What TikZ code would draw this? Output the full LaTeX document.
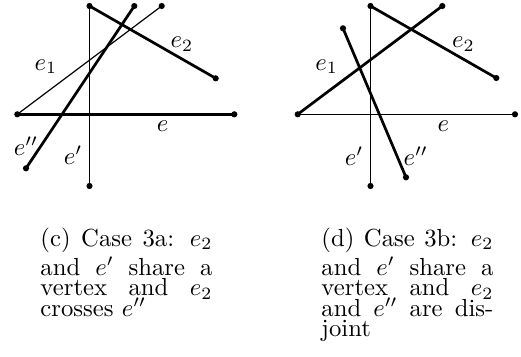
\documentclass[tikz,border=0pt]{standalone}
\begin{document}
\begin{tikzpicture}[x=0.4049pt,y=-0.4049pt,
  vtx/.style={circle,fill=black,inner sep=0pt,minimum size=2.5pt},
  thickedge/.style={line width=1.1pt},
  thinedge/.style={line width=0.5pt},
  lbl/.style={inner sep=0pt},
  captext/.style={inner sep=0pt,anchor=base west}]
\useasboundingbox (0,0) rectangle (521,356);
\newcommand{\fullline}[1]{\makebox[69.6pt][s]{#1}}
% ---------- left panel (c)
\node[vtx] (ct) at (89.5,6) {};
\node[vtx] (cb) at (89.5,186) {};
\node[vtx] (c2) at (215.7,78.3) {};
\node[vtx] (cl) at (17.3,114.3) {};
\node[vtx] (c1) at (161.7,6) {};
\node[vtx] (cr) at (234.3,114.3) {};
\node[vtx] (cpb) at (26,168.3) {};
\node[vtx] (cpt) at (134.3,6) {};
\draw[thinedge] (ct.center) -- (cb.center);
\draw[thinedge] (cl.center) -- (c1.center);
\draw[thickedge] (ct.center) -- (c2.center);
\draw[thickedge] (cl.center) -- (cr.center);
\draw[thickedge] (cpb.center) -- (cpt.center);
\node[lbl] (cle1) at (46,66.7) {$e_1$};
\node[lbl] (cle2) at (182,44) {$e_2$};
\node[lbl] (cle) at (162.5,126) {$e$};
\node[lbl] (clepp) at (26,146) {$e''$};
\node[lbl] (clep) at (73,155) {$e'$};
% ---------- right panel (d)
\node[vtx] (dt) at (370.5,6) {};
\node[vtx] (db) at (370.5,186) {};
\node[vtx] (d2) at (496.3,78) {};
\node[vtx] (dl) at (297.7,114.3) {};
\node[vtx] (d1) at (442.3,6) {};
\node[vtx] (dr) at (515,114.3) {};
\node[vtx] (dpt) at (343,28.3) {};
\node[vtx] (dpb) at (406,177.3) {};
\draw[thinedge] (dt.center) -- (db.center);
\draw[thinedge] (dl.center) -- (dr.center);
\draw[thickedge] (dt.center) -- (d2.center);
\draw[thickedge] (dl.center) -- (d1.center);
\draw[thickedge] (dpt.center) -- (dpb.center);
\node[lbl] (dle1) at (326.7,66.7) {$e_1$};
\node[lbl] (dle2) at (463.3,44) {$e_2$};
\node[lbl] (dle) at (443.3,126) {$e$};
\node[lbl] (dlep) at (354,156) {$e'$};
\node[lbl] (dlepp) at (415.8,156) {$e''$};
% ---------- captions
\node[captext] (capc1) at (40,246) {\fullline{(c) Case 3a: $e_2$}};
\node[captext] (capc2) at (40,275) {\fullline{and $e'$ share a}};
\node[captext] (capc3) at (40,295.5) {\fullline{vertex and $e_2$}};
\node[captext] (capc4) at (40,316) {crosses $e''$};
\node[captext] (capd1) at (321,246) {\fullline{(d) Case 3b: $e_2$}};
\node[captext] (capd2) at (321,275) {\fullline{and $e'$ share a}};
\node[captext] (capd3) at (321,295.5) {\fullline{vertex and $e_2$}};
\node[captext] (capd4) at (321,316) {\fullline{and $e''$ are dis-}};
\node[captext] (capd5) at (321,336.5) {joint};
\end{tikzpicture}
\end{document}
